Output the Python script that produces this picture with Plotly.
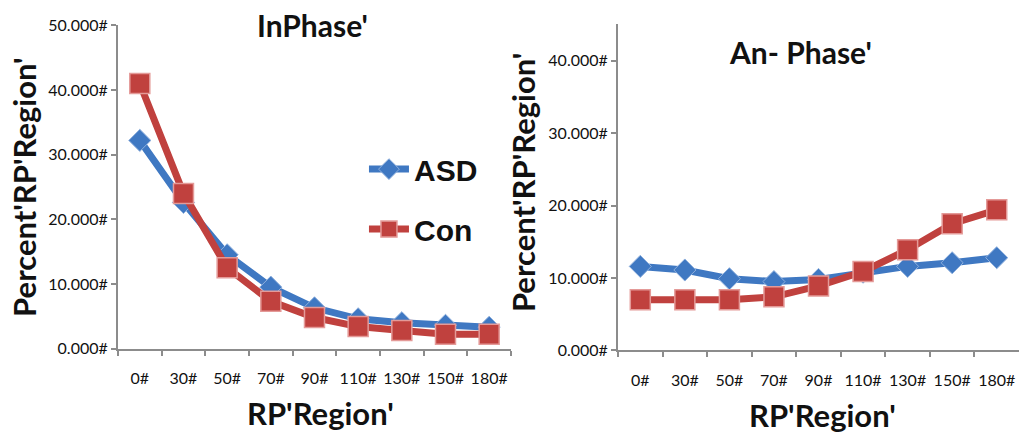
import plotly.graph_objects as go

categories = ["0#", "30#", "50#", "70#", "90#", "110#", "130#", "150#", "180#"]

inphase_asd = [32.2, 22.6, 14.5, 9.5, 6.3, 4.6, 4.0, 3.6, 3.3]
inphase_con = [41.0, 24.0, 12.5, 7.3, 4.8, 3.4, 2.8, 2.2, 2.2]

antiphase_asd = [11.6, 11.1, 9.9, 9.5, 9.8, 10.8, 11.6, 12.1, 12.8]
antiphase_con = [7.0, 7.0, 7.0, 7.4, 8.9, 10.9, 13.9, 17.5, 19.4]

left_yticks = [0, 10, 20, 30, 40, 50]
right_yticks = [0, 10, 20, 30, 40]

BLUE = "#3f78c2"
RED = "#c0413e"
FONT = "Lato"

fig = go.Figure()

def add_pair(asd, con, xa, ya, show):
    fig.add_trace(go.Scatter(
        x=categories, y=asd, name="<b>ASD</b>", mode="lines+markers",
        xaxis=xa, yaxis=ya, showlegend=show, legendgroup="asd",
        line=dict(color=BLUE, width=7),
        marker=dict(symbol="diamond", size=17, color=BLUE,
                    line=dict(color="#8fb0dd", width=1)),
    ))
    fig.add_trace(go.Scatter(
        x=categories, y=con, name="<b>Con</b>", mode="lines+markers",
        xaxis=xa, yaxis=ya, showlegend=show, legendgroup="con",
        line=dict(color=RED, width=7),
        marker=dict(symbol="square", size=20, color=RED,
                    line=dict(color="#e49a98", width=1.5)),
    ))

add_pair(inphase_asd, inphase_con, "x", "y", True)
add_pair(antiphase_asd, antiphase_con, "x2", "y2", False)

axis_common = dict(
    showline=True, linecolor="#8c8c8c", linewidth=2,
    ticks="outside", tickcolor="#8c8c8c", ticklen=5, tickwidth=1.5,
    showgrid=False, zeroline=False,
    tickfont=dict(family=FONT, size=16, color="#111111"),
)

fig.update_layout(
    width=1034, height=435,
    margin=dict(l=0, r=0, t=0, b=0),
    paper_bgcolor="white", plot_bgcolor="white",
    xaxis=dict(domain=[0.1141, 0.4942], type="category", range=[-0.5, 8.5],
               tickson="boundaries", tickangle=0, ticklabelstandoff=14, anchor="y", **axis_common),
    yaxis=dict(domain=[0.1862, 0.9632], range=[0, 50], tickvals=left_yticks,
               ticktext=[f"{v:.3f}#" for v in left_yticks], anchor="x", **axis_common),
    xaxis2=dict(domain=[0.5977, 0.9855], type="category", range=[-0.5, 8.5],
                tickson="boundaries", tickangle=0, ticklabelstandoff=14, anchor="y2", **axis_common),
    yaxis2=dict(domain=[0.1816, 0.9655], range=[0, 45], tickvals=right_yticks,
                ticktext=[f"{v:.3f}#" for v in right_yticks], anchor="x2", **axis_common),
    legend=dict(x=0.352, y=0.68, xanchor="left", yanchor="top", itemwidth=40,
                bgcolor="rgba(0,0,0,0)", tracegroupgap=18,
                font=dict(family="Liberation Sans", size=30, color="#111111")),
)

title_font = dict(family=FONT, size=30, color="#111111")
axis_title_font = dict(family=FONT, size=31, color="#111111")
annotations = [
    dict(text="<b>InPhase'</b>", x=312, y=16, f=title_font),
    dict(text="<b>An- Phase'</b>", x=800, y=44, f=title_font),
    dict(text="<b>RP'Region'</b>", x=320, y=421, f=axis_title_font),
    dict(text="<b>RP'Region'</b>", x=822, y=424, f=axis_title_font),
]
for a in annotations:
    fig.add_annotation(text=a["text"], x=a["x"] / 1034, y=1 - a["y"] / 435,
                       xref="paper", yref="paper", showarrow=False,
                       xanchor="center", yanchor="middle", font=a["f"])
for xc, yc in [(24, 186), (523, 181)]:
    fig.add_annotation(text="<b>Percent'RP'Region'</b>", x=xc / 1034, y=1 - yc / 435,
                       xref="paper", yref="paper", showarrow=False, textangle=-90,
                       xanchor="center", yanchor="middle", font=axis_title_font)

fig.write_html("out.html")
